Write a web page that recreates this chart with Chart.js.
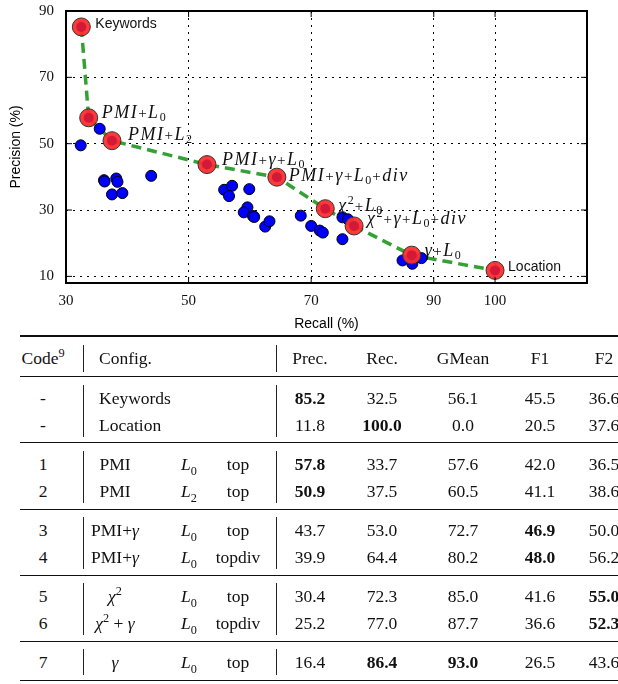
<!DOCTYPE html>
<html>
<head>
<meta charset="utf-8">
<script src="https://cdn.jsdelivr.net/npm/chart.js@4.4.0/dist/chart.umd.min.js"></script>
<style>
html, body { margin: 0; padding: 0; background: #fff; }
#page { position: relative; width: 618px; height: 684px; overflow: hidden; }
#chartBox { position: absolute; left: 0; top: -10px; width: 618px; height: 346px; }
.cell { position: absolute; font-family: "Liberation Serif", serif; font-size: 17.5px; line-height: 20px; color: #111; white-space: nowrap; }
.rule { position: absolute; left: 20px; width: 640px; background: #111; }
.vbar { position: absolute; width: 1px; background: #222; }
sub, sup { font-size: 70%; line-height: 0; }
</style>
</head>
<body>
<div id="page">
  <div id="chartBox"><canvas id="myChart" width="618" height="346"></canvas></div>
  <div id="table"></div>
</div>
<script>
// ---- plot data ----
var xTicks = [30, 50, 70, 90, 100];
var yTicks = [10, 30, 50, 70, 90];

// red (labelled) configurations, in line order
var redNames = ['Keywords', 'PMI+L_0', 'PMI+L_2', 'PMI+γ+L_0', 'PMI+γ+L_0+div',
                'χ^2+L_0', 'χ^2+γ+L_0+div', 'γ+L_0', 'Location'];
var redRecall = [32.5, 33.7, 37.5, 53.0, 64.4, 72.3, 77.0, 86.4, 100.0];
var redPrec = [85.2, 57.8, 50.9, 43.7, 39.9, 30.4, 25.2, 16.4, 11.8];

// other configurations (blue)
var blueRecall = [32.4, 35.5, 36.2, 36.3, 38.2, 38.4, 37.5, 39.2, 43.9, 55.8, 57.1, 56.6, 59.9, 59.6, 59.0,
                  60.5, 60.7, 62.5, 63.2, 68.3, 70.0, 71.4, 71.9, 75.1, 76.0, 75.1, 84.9, 86.5, 88.0];
var bluePrec = [49.5, 54.5, 39.0, 38.6, 39.5, 38.5, 34.7, 35.1, 40.3, 36.1, 37.3, 34.2, 36.3, 30.8, 29.3,
                28.2, 27.9, 25.0, 26.6, 28.3, 25.2, 23.8, 23.2, 27.8, 27.2, 21.2, 14.8, 13.8, 15.5];

// ---- table data ----
var codes = ['-', '-', '1', '2', '3', '4', '5', '6', '7'];
var methods = ['Keywords', 'Location', 'PMI', 'PMI', 'PMI+γ', 'PMI+γ', 'χ^2', 'χ^2 + γ', 'γ'];
var norms = ['', '', 'L_0', 'L_2', 'L_0', 'L_0', 'L_0', 'L_0', 'L_0'];
var selections = ['', '', 'top', 'top', 'top', 'topdiv', 'top', 'topdiv', 'top'];
var precCol = ['85.2', '11.8', '57.8', '50.9', '43.7', '39.9', '30.4', '25.2', '16.4'];
var recCol = ['32.5', '100.0', '33.7', '37.5', '53.0', '64.4', '72.3', '77.0', '86.4'];
var gmeanCol = ['56.1', '0.0', '57.6', '60.5', '72.7', '80.2', '85.0', '87.7', '93.0'];
var f1Col = ['45.5', '20.5', '42.0', '41.1', '46.9', '48.0', '41.6', '36.6', '26.5'];
var f2Col = ['36.6', '37.6', '36.5', '38.6', '50.0', '56.2', '55.0', '52.3', '43.6'];
var precBold = [0, 2, 3], recBold = [1, 8], gmeanBold = [8], f1Bold = [4, 5], f2Bold = [6, 7];
var groups = [[0, 1], [2, 3], [4, 5], [6, 7], [8]];

// label offsets from each red point (px)
var labelOffsets = [[14, -4], [13, -6], [16, -7], [15, -6], [12, -2], [13, -4], [13, -8], [13, -5], [13, -4]];

function pts(xs, ys) {
	return xs.map(function (x, i) { return {x: x, y: ys[i]}; });
}

function drawMath(ctx, s, x, y) {
	var i = 0;
	while (i < s.length) {
		var ch = s[i], size = 18, dy = 0;
		if (ch === '_' || ch === '^') {
			dy = ch === '_' ? 3 : -7;
			ch = s[i + 1];
			i++;
			size = 12;
		}
		var italic = /[A-Za-z\u03b1-\u03c9]/.test(ch);
		if (ch === '+') {
			ctx.font = '15px "Liberation Serif"';
		} else {
			ctx.font = (italic ? 'italic ' : '') + size + 'px "Liberation Serif"';
		}
		ctx.fillText(ch, x, y + dy);
		x += ctx.measureText(ch).width + (size === 18 ? 1.5 : 1);
		i++;
	}
}

var labelPlugin = {
	id: 'labels',
	afterDatasetsDraw: function (chart) {
		var ctx = chart.ctx;
		var meta = chart.getDatasetMeta(2);
		ctx.save();
		ctx.fillStyle = '#111';
		ctx.textBaseline = 'alphabetic';
		meta.data.forEach(function (pt, i) {
			var x = pt.x + labelOffsets[i][0];
			var y = pt.y + labelOffsets[i][1] + 6;
			var name = redNames[i];
			if (name === 'Keywords' || name === 'Location') {
				ctx.font = '14px "Liberation Sans"';
				ctx.fillText(name, x, y - 1);
			} else {
				drawMath(ctx, name, x, y);
			}
		});
		ctx.restore();
	}
};

var framePlugin = {
	id: 'frame',
	afterDraw: function (chart) {
		var a = chart.chartArea, ctx = chart.ctx;
		var xs = chart.scales.x, ys = chart.scales.y;
		ctx.save();
		ctx.strokeStyle = '#000';
		ctx.lineWidth = 1;
		ctx.beginPath();
		xTicks.forEach(function (v) {
			var px = xs.getPixelForValue(v);
			ctx.moveTo(px, a.bottom); ctx.lineTo(px, a.bottom - 6);
			ctx.moveTo(px, a.top); ctx.lineTo(px, a.top + 6);
		});
		yTicks.forEach(function (v) {
			var py = ys.getPixelForValue(v);
			ctx.moveTo(a.left, py); ctx.lineTo(a.left + 6, py);
			ctx.moveTo(a.right, py); ctx.lineTo(a.right - 6, py);
		});
		ctx.stroke();
		ctx.lineWidth = 2;
		ctx.strokeRect(a.left, a.top, a.right - a.left, a.bottom - a.top);
		ctx.restore();
	}
};

var tickFont = {family: '"Liberation Serif"', size: 15};
var titleFont = {family: '"Liberation Sans"', size: 14};

var myChart = new Chart(document.getElementById('myChart'), {
	type: 'scatter',
	data: {
		datasets: [
			{
				data: pts(redRecall, redPrec),
				showLine: true,
				borderColor: '#35a035',
				borderWidth: 3.5,
				borderDash: [10, 6],
				pointRadius: 0,
				fill: false,
				order: 3
			},
			{
				data: pts(blueRecall, bluePrec),
				backgroundColor: '#0000ff',
				borderColor: '#000',
				borderWidth: 1,
				pointRadius: 5.5,
				order: 2
			},
			{
				data: pts(redRecall, redPrec),
				backgroundColor: 'rgba(255,45,45,0.95)',
				borderColor: '#333',
				borderWidth: 1,
				pointRadius: 9,
				order: 1
			},
			{
				data: pts(redRecall, redPrec),
				backgroundColor: '#d21a38',
				borderWidth: 0,
				pointRadius: 5,
				order: 0
			}
		]
	},
	options: {
		responsive: false,
		animation: false,
		events: [],
		layout: {padding: {top: 0, right: 31, left: 0, bottom: 0}},
		plugins: {legend: {display: false}, tooltip: {enabled: false}},
		scales: {
			x: {
				type: 'linear', min: 30, max: 115,
				afterBuildTicks: function (s) { s.ticks = xTicks.map(function (v) { return {value: v}; }); },
				afterFit: function (s) { s.height = 53; },
				grid: {color: '#000', lineWidth: 1, drawTicks: false},
				border: {display: false, dash: [2, 5]},
				ticks: {font: tickFont, color: '#111', padding: 9, maxRotation: 0, autoSkip: false},
				title: {display: true, text: 'Recall (%)', font: titleFont, color: '#000', padding: {top: 0, bottom: 3}}
			},
			y: {
				type: 'linear', min: 8, max: 90,
				afterBuildTicks: function (s) { s.ticks = yTicks.map(function (v) { return {value: v}; }); },
				afterFit: function (s) { s.width = 66; },
				grid: {color: '#000', lineWidth: 1, drawTicks: false},
				border: {display: false, dash: [2, 5]},
				ticks: {font: tickFont, color: '#111', padding: 12, autoSkip: false},
				title: {display: true, text: 'Precision (%)', font: titleFont, color: '#000', padding: {top: 8, bottom: 0}}
			}
		}
	},
	plugins: [labelPlugin, framePlugin]
});

// ---- table ----
var table = document.getElementById('table');

function fmt(s, italLatin) {
	var out = '';
	for (var i = 0; i < s.length; i++) {
		var ch = s[i];
		if (ch === '_' || ch === '^') {
			var tag = ch === '_' ? 'sub' : 'sup';
			out += '<' + tag + '>' + s[i + 1] + '</' + tag + '>';
			i++;
		} else if (/[\u03b1-\u03c9]/.test(ch) || (italLatin && /[A-Za-z]/.test(ch))) {
			out += '<i>' + ch + '</i>';
		} else {
			out += ch;
		}
	}
	return out;
}

function cell(html, x, cy, align, bold) {
	var d = document.createElement('div');
	d.className = 'cell';
	d.innerHTML = html;
	d.style.top = (cy - 10) + 'px';
	if (align === 'center') {
		d.style.left = (x - 100) + 'px';
		d.style.width = '200px';
		d.style.textAlign = 'center';
	} else {
		d.style.left = x + 'px';
	}
	if (bold) d.style.fontWeight = 'bold';
	table.appendChild(d);
}

function rule(y, h) {
	var d = document.createElement('div');
	d.className = 'rule';
	d.style.top = (y - h / 2) + 'px';
	d.style.height = h + 'px';
	table.appendChild(d);
}

function vbars(y0, y1) {
	[82.5, 276].forEach(function (x) {
		var d = document.createElement('div');
		d.className = 'vbar';
		d.style.left = x + 'px';
		d.style.top = y0 + 'px';
		d.style.height = (y1 - y0) + 'px';
		table.appendChild(d);
	});
}

var numCols = [[precCol, precBold, 310], [recCol, recBold, 382], [gmeanCol, gmeanBold, 463], [f1Col, f1Bold, 540], [f2Col, f2Bold, 604]];

rule(336, 1.5);
cell('Code<sup>9</sup>', 43, 358, 'center');
cell('Config.', 99, 358, 'left');
cell('Prec.', 310, 358, 'center');
cell('Rec.', 382, 358, 'center');
cell('GMean', 463, 358, 'center');
cell('F1', 540, 358, 'center');
cell('F2', 604, 358, 'center');
vbars(345, 372);

var ruleY = 376.8;
rule(ruleY, 1);
groups.forEach(function (g, gi) {
	var cy = ruleY + 21.2;
	g.forEach(function (r, k) {
		var y = cy + k * 26.7;
		cell(codes[r], 43, y, 'center');
		if (norms[r] === '') {
			cell(methods[r], 99, y, 'left');
		} else {
			cell(fmt(methods[r], false), 115, y, 'center');
			cell(fmt(norms[r], true), 181, y, 'left');
			cell(selections[r], 238, y, 'center');
		}
		numCols.forEach(function (c) {
			cell(c[0][r], c[2], y, 'center', c[1].indexOf(r) >= 0);
		});
	});
	var last = cy + (g.length - 1) * 26.7;
	var nextRule = last + 18.2;
	vbars(ruleY + 8, nextRule - 6);
	ruleY = nextRule;
	rule(ruleY, gi === groups.length - 1 ? 1.5 : 1);
});
</script>
</body>
</html>
